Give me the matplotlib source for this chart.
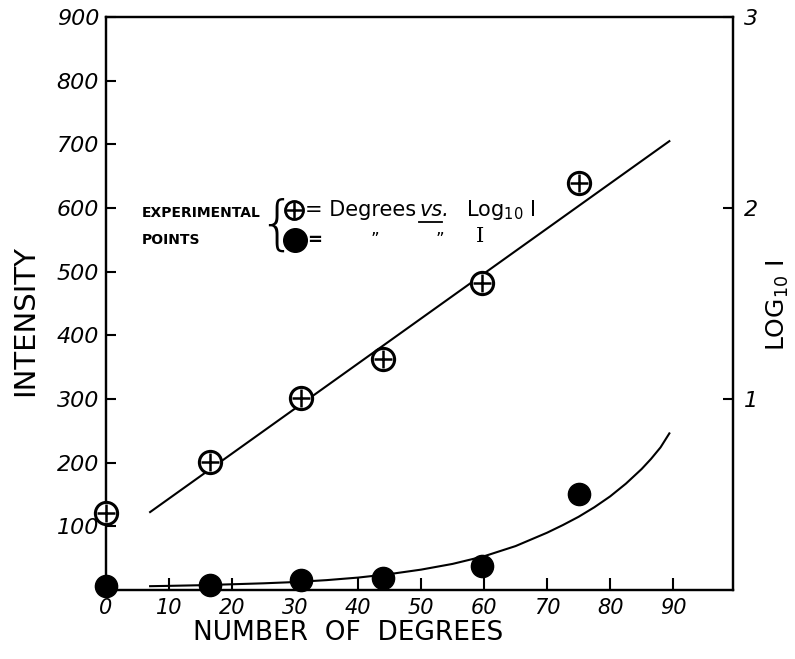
import numpy as np
import matplotlib
matplotlib.use("Agg")
import matplotlib.pyplot as plt
from matplotlib.lines import Line2D

# experimental points
degrees = [0, 16.5, 31, 44, 59.7, 75]
log10_i = [0.403, 0.67, 1.003, 1.21, 1.607, 2.13]
intensity = [6, 8, 15, 19, 38, 151]

# straight fit on the log scale (end points)
fit_deg = [7, 89.4]
fit_log = [0.408, 2.35]

# smooth curve through intensity
curve_deg = [7, 10, 15, 20, 25, 30, 35, 40, 45, 50, 55, 60, 65, 70, 72.5, 75,
             77.5, 80, 82.5, 85, 86.5, 88, 89.4]
curve_int = [6, 6.5, 7.5, 9, 10.5, 12.5, 15.5, 19.5, 25, 32, 41, 53, 69, 90,
             102, 115, 130, 147, 167, 190, 206, 224, 246]

x_ticks = [0, 10, 20, 30, 40, 50, 60, 70, 80, 90]
y_ticks = [100, 200, 300, 400, 500, 600, 700, 800, 900]
y2_ticks = [1, 2, 3]

plt.rcParams["font.family"] = ["DejaVu Sans"]

fig = plt.figure(figsize=(7.95, 6.59), dpi=100)
ax = fig.add_axes([106 / 795, 1 - 590 / 659, 627 / 795, 573 / 659])
ax2 = ax.twinx()

ax.set_xlim(0, 99.5)
ax.set_ylim(0, 900)
ax2.set_ylim(0, 3)

for a in (ax, ax2):
    for s in a.spines.values():
        s.set_linewidth(1.6)
        s.set_color("black")

# filled points + curve on intensity axis
ax.plot(curve_deg, curve_int, color="black", lw=1.5, zorder=3)
ax.plot(degrees, intensity, "o", color="black", ms=16, clip_on=False, zorder=4)

# crossed circles + line on the log axis
ax2.plot(fit_deg, fit_log, color="black", lw=1.5, zorder=3)
ax2.plot(degrees, log10_i, "o", mfc="white", mec="black", mew=2.2, ms=16,
         clip_on=False, zorder=4)
ax2.plot(degrees, log10_i, "+", color="black", mew=1.8, ms=13, clip_on=False, zorder=5)

# ticks
ax.set_xticks(x_ticks)
ax.set_xticklabels([str(v) for v in x_ticks], fontsize=15, fontstyle="italic")
ax.set_yticks(y_ticks)
ax.set_yticklabels([str(v) for v in y_ticks], fontsize=16, fontstyle="italic")
ax.tick_params(axis="x", direction="in", length=9, width=1.5, pad=6)
ax.tick_params(axis="y", direction="in", length=7, width=1.5, pad=5)
ax2.set_yticks(y2_ticks)
ax2.set_yticklabels([str(v) for v in y2_ticks], fontsize=16, fontstyle="italic")
ax2.tick_params(axis="y", direction="in", length=7, width=1.5, pad=8)

# axis labels
fig.text(25 / 795, 1 - 320 / 659, "INTENSITY", rotation=90, fontsize=21,
         ha="center", va="center")
fig.text(348 / 795, 1 - 633 / 659, "NUMBER  OF  DEGREES", fontsize=19,
         ha="center", va="center")
fig.text(778 / 795, 1 - 305 / 659, r"LOG$_{10}$ I", rotation=90, fontsize=18,
         ha="center", va="center")

# hand-drawn key
ax.text(0.057, 0.658, "EXPERIMENTAL", transform=ax.transAxes, fontsize=10,
        fontweight="bold", ha="left", va="center")
ax.text(0.057, 0.611, "POINTS", transform=ax.transAxes, fontsize=10,
        fontweight="bold", ha="left", va="center")
ax.text(0.272, 0.634, "{", transform=ax.transAxes, fontsize=42,
        ha="center", va="center", fontweight="light")
ax.plot([0.300], [0.663], "o", mfc="white", mec="black", mew=2, ms=13,
        transform=ax.transAxes, clip_on=False)
ax.plot([0.300], [0.663], "+", color="black", mew=1.8, ms=11,
        transform=ax.transAxes, clip_on=False)
ax.plot([0.301], [0.611], "o", color="black", ms=17,
        transform=ax.transAxes, clip_on=False)
ax.text(0.318, 0.663, "= Degrees", transform=ax.transAxes, fontsize=15,
        ha="left", va="center")
ax.text(0.500, 0.663, "vs.", transform=ax.transAxes, fontsize=15,
        fontstyle="italic", ha="left", va="center")
fig.add_artist(Line2D([419 / 795, 442 / 795], [1 - 222 / 659, 1 - 222 / 659],
                      color="black", lw=1.3))
ax.text(0.574, 0.663, r"Log$_{10}$ I", transform=ax.transAxes, fontsize=15,
        ha="left", va="center")
ax.text(0.320, 0.611, "=", transform=ax.transAxes, fontsize=13,
        fontweight="bold", ha="left", va="center")
ax.text(0.429, 0.611, "\u201d", transform=ax.transAxes, fontsize=12,
        ha="center", va="center")
ax.text(0.533, 0.611, "\u201d", transform=ax.transAxes, fontsize=12,
        ha="center", va="center")
ax.text(0.596, 0.617, "I", transform=ax.transAxes, fontsize=15,
        family="DejaVu Serif", ha="center", va="center")

fig.savefig("out.png", dpi=100)
